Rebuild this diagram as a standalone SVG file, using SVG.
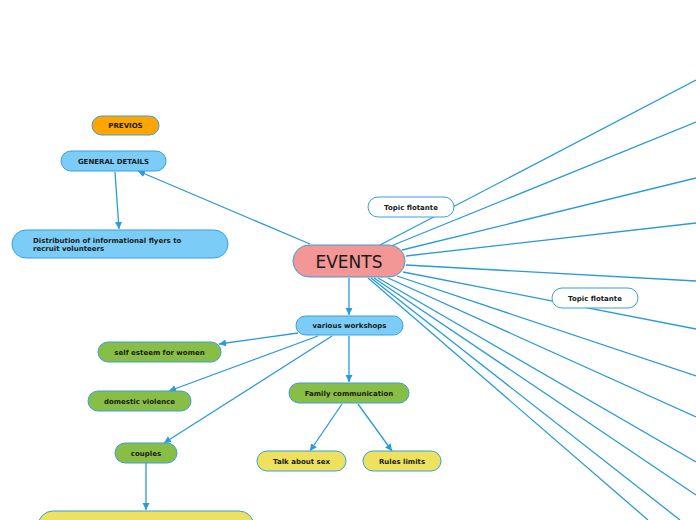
<svg xmlns="http://www.w3.org/2000/svg" width="696" height="520" viewBox="0 0 696 520">
<style>
.n{stroke:#3A9FDB;stroke-width:1}
.blue{fill:#7BCDF8}
.green{fill:#89BE46}
.yellow{fill:#EDE15D}
.white{fill:#FFFFFF}
.t{font-family:"DejaVu Sans",Verdana,sans-serif;font-size:7px;font-weight:bold;fill:#1a1a1a;text-anchor:middle}
.c line{stroke:#2A9AD9;stroke-width:1.3;fill:none}
.a{marker-end:url(#ah)}
</style>
<defs>
<marker id="ah" markerUnits="userSpaceOnUse" markerWidth="8" markerHeight="8" refX="7" refY="4" orient="auto">
<path d="M0,0.5 L7,4 L0,7.5 Z" fill="#2A9AD9"/>
</marker>
</defs>
<rect width="696" height="520" fill="#FFFFFF"/>
<g class="c" id="connectors">
<line x1="380" y1="245" x2="696" y2="80"/>
<line x1="391" y1="246" x2="696" y2="122"/>
<line x1="402" y1="250" x2="696" y2="178"/>
<line x1="406" y1="256" x2="696" y2="223"/>
<line x1="406" y1="265" x2="696" y2="281"/>
<line x1="403" y1="272" x2="696" y2="329"/>
<line x1="397" y1="276" x2="696" y2="376"/>
<line x1="388" y1="278" x2="696" y2="417"/>
<line x1="378" y1="278" x2="696" y2="462"/>
<line x1="374" y1="278" x2="696" y2="495"/>
<line x1="371" y1="278" x2="680" y2="520"/>
<line x1="368" y1="278" x2="648" y2="520"/>
<line class="a" x1="310" y1="244" x2="138" y2="171"/>
<line class="a" x1="115" y1="172" x2="119" y2="229"/>
<line class="a" x1="349" y1="278" x2="349" y2="315"/>
<line class="a" x1="298" y1="333" x2="219" y2="344"/>
<line class="a" x1="318" y1="336" x2="169" y2="391"/>
<line class="a" x1="332" y1="336" x2="164" y2="443"/>
<line class="a" x1="349" y1="336" x2="349" y2="382"/>
<line class="a" x1="342" y1="404" x2="310" y2="451"/>
<line class="a" x1="358" y1="404" x2="392" y2="451"/>
<line class="a" x1="146" y1="463" x2="146" y2="510"/>
</g>
<g id="previos"><rect class="n" x="92" y="116" width="67" height="19" rx="9.5" fill="#FFA500"/><text class="t" x="125.5" y="128">PREVIOS</text></g>
<g id="general-details"><rect class="n blue" x="61" y="151" width="105" height="20" rx="10"/><text class="t" x="113.5" y="164">GENERAL DETAILS</text></g>
<g id="distribution"><rect class="n blue" x="12" y="230" width="216" height="28" rx="14"/><text class="t" style="text-anchor:start" x="33" y="243">Distribution of informational flyers to</text><text class="t" style="text-anchor:start" x="33" y="251">recruit volunteers</text></g>
<g id="events"><rect class="n" x="293" y="245" width="112" height="32" rx="16" fill="#F29696"/><text x="349" y="268" text-anchor="middle" style="font-family:'DejaVu Sans',Verdana,sans-serif;font-size:17px;fill:#1a1a1a">EVENTS</text></g>
<g id="topic1"><rect class="n white" x="368" y="197" width="86" height="20" rx="10"/><text class="t" x="411" y="210">Topic flotante</text></g>
<g id="topic2"><rect class="n white" x="552" y="288" width="86" height="20" rx="10"/><text class="t" x="595" y="301">Topic flotante</text></g>
<g id="workshops"><rect class="n blue" x="296" y="316" width="107" height="19" rx="9.5"/><text class="t" x="349.5" y="328">various workshops</text></g>
<g id="self-esteem"><rect class="n green" x="98" y="342" width="123" height="20" rx="10"/><text class="t" x="159.5" y="355">self esteem for women</text></g>
<g id="domestic"><rect class="n green" x="88" y="391" width="103" height="20" rx="10"/><text class="t" x="139.5" y="404">domestic violence</text></g>
<g id="couples"><rect class="n green" x="115" y="443" width="62" height="20" rx="10"/><text class="t" x="146" y="456">couples</text></g>
<g id="family"><rect class="n green" x="289" y="383" width="120" height="20" rx="10"/><text class="t" x="349" y="396">Family communication</text></g>
<g id="talk"><rect class="n yellow" x="257" y="451" width="89" height="20" rx="10"/><text class="t" x="301.5" y="464">Talk about sex</text></g>
<g id="rules"><rect class="n yellow" x="363" y="451" width="78" height="20" rx="10"/><text class="t" x="402" y="464">Rules limits</text></g>
<g id="bottom"><rect class="n yellow" x="38" y="511" width="216" height="30" rx="15"/></g>
</svg>
